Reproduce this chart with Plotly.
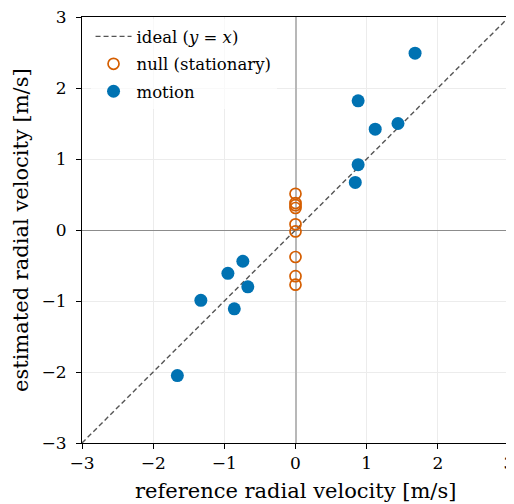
import plotly.graph_objects as go

ideal_x = [-3, 3]
ideal_y = [-3, 3]

null_ref = [0, 0, 0, 0, 0, 0, 0, 0, 0]
null_est = [0.51, 0.38, 0.35, 0.31, 0.08, -0.02, -0.38, -0.65, -0.77]

motion_ref = [1.68, 0.88, 1.12, 1.44, 0.88, 0.84, -0.74, -0.95, -0.67, -1.33, -0.86, -1.66]
motion_est = [2.49, 1.82, 1.42, 1.50, 0.92, 0.67, -0.44, -0.61, -0.80, -0.99, -1.11, -2.05]

tick_vals = [-3, -2, -1, 0, 1, 2, 3]

font = "DejaVu Serif"

fig = go.Figure()
fig.add_trace(go.Scatter(x=ideal_x, y=ideal_y, mode="lines", legendgroup="a",
                         line=dict(color="#555555", dash="5px,3px", width=1.4),
                         name="ideal (<i>y</i> = <i>x</i>)"))
fig.add_trace(go.Scatter(x=null_ref, y=null_est, mode="markers", legendgroup="b",
                         marker=dict(symbol="circle-open", size=11, color="#D55E00",
                                     line=dict(width=1.7, color="#D55E00")),
                         name="null (stationary)"))
fig.add_trace(go.Scatter(x=motion_ref, y=motion_est, mode="markers", legendgroup="c",
                         marker=dict(symbol="circle", size=13, color="#0072B2"),
                         name="motion"))

axis_common = dict(
    range=[-3, 3], tickvals=tick_vals, showgrid=True, gridcolor="#ececec", gridwidth=1,
    showline=True, linecolor="black", linewidth=1, mirror=True,
    ticks="outside", ticklen=5, tickcolor="black",
    tickfont=dict(family=font, size=17, color="black"),
    automargin=False, ticklabeloverflow="allow",
)

fig.update_layout(
    template="none",
    width=506, height=496,
    margin=dict(l=74, r=5, t=9, b=61),
    paper_bgcolor="white", plot_bgcolor="white",
    font=dict(family=font, color="black", size=17),
    xaxis=dict(**axis_common, zeroline=True, zerolinecolor="#b8b8b8", zerolinewidth=1.8),
    yaxis=dict(**axis_common, zeroline=True, zerolinecolor="#8c8c8c", zerolinewidth=1,
               ticklabelstandoff=6),
    legend=dict(x=0.02, y=0.995, xanchor="left", yanchor="top",
                bgcolor="rgba(255,255,255,0.7)", borderwidth=0,
                font=dict(family=font, size=16.5), tracegroupgap=3, itemwidth=36),
    showlegend=True,
    annotations=[
        dict(text="reference radial velocity [m/s]", xref="paper", yref="paper",
             x=0.5, y=0, xanchor="center", yanchor="middle", yshift=-48,
             showarrow=False, font=dict(family=font, size=21, color="black")),
        dict(text="estimated radial velocity [m/s]", xref="paper", yref="paper",
             x=0, y=0.5, xanchor="center", yanchor="middle", xshift=-61, textangle=-90,
             showarrow=False, font=dict(family=font, size=21, color="black")),
    ],
)

fig.write_html("out.html")
